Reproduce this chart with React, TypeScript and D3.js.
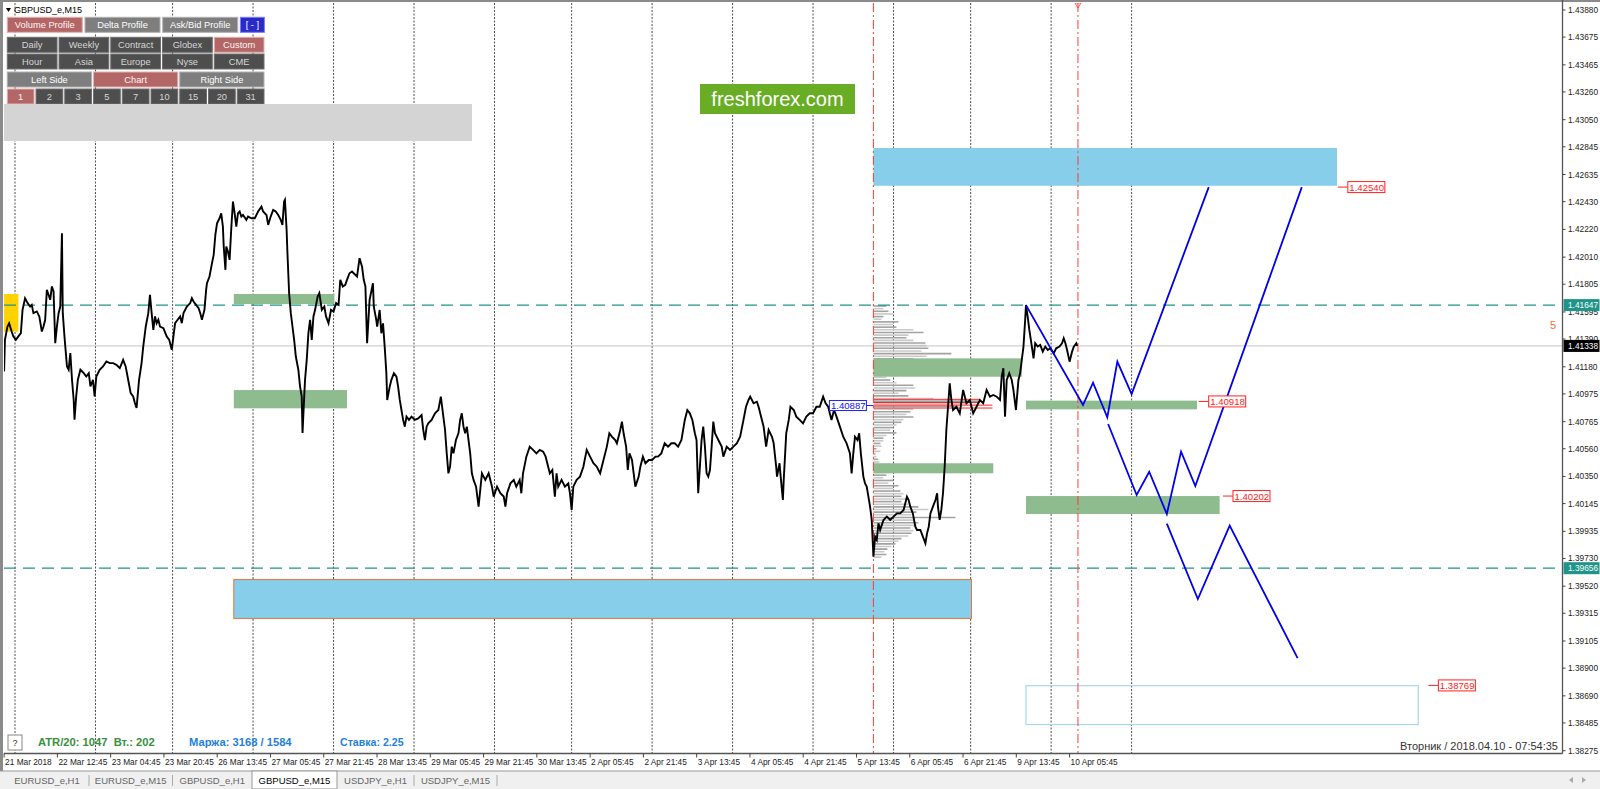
import React from "react";
import * as d3 from "d3";

// ---------- DATA ----------
const priceTicks = [1.4388, 1.43675, 1.43465, 1.4326, 1.4305, 1.42845, 1.42635, 1.4243, 1.4222, 1.4201, 1.41805, 1.41595, 1.4139, 1.4118, 1.40975, 1.40765, 1.4056, 1.4035, 1.40145, 1.39935, 1.3973, 1.3952, 1.39315, 1.39105, 1.389, 1.3869, 1.38485, 1.38275];

const timeLabels = ["21 Mar 2018", "22 Mar 12:45", "23 Mar 04:45", "23 Mar 20:45", "26 Mar 13:45", "27 Mar 05:45", "27 Mar 21:45", "28 Mar 13:45", "29 Mar 05:45", "29 Mar 21:45", "30 Mar 13:45", "2 Apr 05:45", "2 Apr 21:45", "3 Apr 13:45", "4 Apr 05:45", "4 Apr 21:45", "5 Apr 13:45", "6 Apr 05:45", "6 Apr 21:45", "9 Apr 13:45", "10 Apr 05:45"];
const timeLabelFirstBar = -13;
const timeLabelStepBars = 63.55;

// bar index (M15 bars since 22 Mar 00:00) of each day start
const daySeparators = [0, 96, 188, 284, 380, 476, 572, 664, 760, 856, 952, 1048, 1140, 1236, 1332];

// [bar index, price]
const priceSeries: [number, number][] = [
[-13,1.41145],[-12,1.41384],[-9,1.41485],[-7,1.4151],[-4,1.41447],[-2,1.4141],[1,1.41384],[4,1.4141],[7,1.41435],[9,1.41611],[12,1.41699],[15,1.41662],[18,1.41636],[20,1.41649],[22,1.41586],[26,1.41599],[29,1.41561],[32,1.41447],[34,1.41485],[36,1.41536],[38,1.41762],[40,1.41725],[42,1.41687],[44,1.41788],[46,1.4175],[48,1.41359],[50,1.41485],[52,1.41586],[54,1.41636],[56,1.42191],[57,1.41586],[59,1.4141],[60,1.41334],[62,1.41183],[64,1.41158],[66,1.41284],[68,1.41082],[70,1.40931],[71,1.4078],[73,1.40956],[75,1.41082],[78,1.41158],[82,1.41132],[85,1.41107],[88,1.41132],[90,1.41032],[93,1.41082],[95,1.40956],[97,1.41107],[101,1.41158],[105,1.41183],[109,1.41221],[113,1.41208],[117,1.41208],[121,1.41195],[125,1.4117],[129,1.41233],[132,1.41183],[135,1.41082],[138,1.40981],[141,1.40956],[143,1.40906],[145,1.40868],[148,1.41082],[151,1.41208],[153,1.41334],[156,1.41485],[159,1.41586],[161,1.41725],[163,1.41586],[165,1.4146],[167,1.41561],[169,1.4151],[171,1.41536],[173,1.41485],[177,1.41473],[181,1.4141],[184,1.41384],[186,1.41334],[187,1.41309],[189,1.4141],[191,1.4151],[194,1.41536],[197,1.41561],[199,1.4151],[201,1.41586],[205,1.41636],[209,1.41662],[211,1.41699],[213,1.41674],[216,1.41649],[219,1.41624],[221,1.41586],[223,1.41536],[226,1.41611],[228,1.41762],[229,1.41813],[232,1.41863],[235,1.41964],[237,1.42027],[239,1.42178],[241,1.42266],[244,1.42304],[246,1.42342],[248,1.42241],[249,1.4209],[251,1.41914],[252,1.4209],[254,1.42052],[256,1.41989],[258,1.42229],[260,1.4243],[262,1.42342],[264,1.42241],[266,1.42342],[268,1.42355],[270,1.42317],[272,1.42329],[276,1.42292],[278,1.42317],[282,1.42304],[286,1.42304],[290,1.42355],[294,1.42392],[296,1.42355],[300,1.42329],[302,1.42254],[305,1.42317],[308,1.42367],[311,1.42355],[314,1.42329],[317,1.42292],[319,1.42254],[321,1.4243],[322,1.42443],[324,1.42216],[325,1.4204],[327,1.41737],[329,1.41586],[331,1.41485],[333,1.41384],[335,1.41258],[338,1.41158],[340,1.41032],[342,1.40956],[343,1.40679],[345,1.40956],[346,1.41082],[348,1.41233],[350,1.41435],[352,1.41536],[354,1.41384],[356,1.41561],[358,1.41611],[361,1.41712],[363,1.41737],[366,1.41611],[369,1.41636],[371,1.41561],[374,1.4151],[377,1.41611],[380,1.41599],[383,1.41662],[386,1.41649],[388,1.41838],[391,1.41788],[394,1.418],[396,1.41838],[399,1.41888],[402,1.41901],[404,1.41888],[408,1.41863],[411,1.42002],[414,1.41938],[416,1.41838],[418,1.41788],[420,1.41359],
[423,1.41686],[427,1.41812],[428,1.41635],[431,1.41534],[432,1.41484],[435,1.4161],[437,1.41434],[439,1.41509],[441,1.41333],[443,1.41131],[444,1.40929],[447,1.4103],[449,1.41081],[452,1.41131],[455,1.41106],[457,1.4103],[459,1.40929],[461,1.40853],[463,1.40778],[465,1.40727],[467,1.40803],[470,1.40778],[473,1.40803],[477,1.40778],[481,1.4079],[485,1.40815],[487,1.40702],[489,1.40626],[491,1.40727],[493,1.40752],[497,1.40778],[501,1.40828],[505,1.40853],[508,1.40954],[510,1.40853],[513,1.40702],[515,1.40525],[517,1.40374],[519,1.40424],[521,1.40576],[523,1.40525],[526,1.40626],[529,1.40677],[531,1.40778],[533,1.40828],[535,1.40727],[537,1.40677],[539,1.40727],[541,1.40626],[543,1.40525],[545,1.40374],[547,1.40324],[550,1.40273],[553,1.40122],[555,1.40248],[557,1.40374],[559,1.40349],[561,1.40324],[565,1.40374],[569,1.40273],[571,1.40198],[575,1.40273],[579,1.40223],[583,1.40198],[585,1.40122],[587,1.40223],[591,1.40298],[595,1.40324],[598,1.40273],[602,1.40324],[604,1.40223],[606,1.40374],[610,1.405],[614,1.40576],[618,1.40551],[622,1.40525],[626,1.40551],[630,1.40538],[633,1.405],[636,1.40424],[638,1.40374],[641,1.40399],[644,1.40198],[646,1.40374],[648,1.40273],[652,1.40324],[656,1.40273],[660,1.40298],[662,1.40223],[664,1.40097],[666,1.40273],[670,1.40324],[674,1.40349],[678,1.40424],[682,1.40551],[686,1.405],[690,1.4045],[694,1.40424],[698,1.40374],[702,1.40475],[706,1.40576],[709,1.40677],[712,1.40652],[716,1.40626],[718,1.40601],[722,1.40702],[724,1.40765],[726,1.40677],[729,1.40576],[731,1.40399],[733,1.40525],[736,1.40475],[738,1.40374],[740,1.40273],[744,1.40349],[746,1.40424],[749,1.405],[752,1.4045],[756,1.40475],[760,1.40475],[764,1.405],[767,1.405],[771,1.40525],[775,1.40601],[779,1.40576],[783,1.40601],[787,1.40601],[791,1.40576],[795,1.40626],[799,1.40778],[802,1.40853],[805,1.40828],[808,1.40778],[811,1.40677],[813,1.40626],[815,1.40223],[817,1.40424],[819,1.40626],[821,1.40727],[823,1.40576],[825,1.40374],[827,1.40349],[829,1.40399],[831,1.40576],[833,1.40765],[835,1.40677],[839,1.40626],[843,1.40576],[845,1.405],[849,1.40576],[853,1.40551],[857,1.40576],[861,1.40601],
[865,1.40651],[869,1.40778],[872,1.40878],[875,1.40929],[877,1.40954],[881,1.40904],[885,1.40916],[887,1.40878],[891,1.40778],[893,1.40727],[896,1.40576],[899,1.40702],[903,1.40651],[905,1.40601],[908,1.40424],[909,1.40349],[912,1.4045],[913,1.40374],[916,1.40172],[917,1.40324],[920,1.40677],[923,1.40778],[925,1.40878],[929,1.40853],[932,1.40803],[936,1.40778],[940,1.40752],[944,1.40803],[948,1.40828],[952,1.40828],[956,1.40878],[960,1.40878],[964,1.40954],[967,1.40904],[970,1.40878],[974,1.40778],[977,1.40853],[980,1.40803],[984,1.40727],[988,1.40651],[992,1.40601],[996,1.40525],[998,1.40374],[1000,1.40525],[1002,1.40651],[1005,1.40626],[1007,1.40677],[1009,1.40525],[1012,1.40349],[1014,1.40298],[1016,1.40273],[1018,1.40197],[1020,1.40122],[1022,1.40021],[1024,1.39743],[1026,1.39895],[1028,1.3987],[1030,1.39996],[1032,1.39945],[1036,1.40021],[1040,1.40046],[1044,1.40021],[1048,1.40046],[1052,1.40071],[1056,1.40071],[1060,1.40097],[1064,1.40197],[1066,1.40172],[1068,1.40122],[1071,1.40071],[1074,1.3997],[1076,1.39945],[1080,1.39945],[1083,1.39895],[1086,1.39844],[1088,1.3992],[1090,1.3997],[1092,1.40071],[1095,1.40122],[1098,1.40172],[1100,1.40223],[1101,1.40122],[1103,1.40021],[1105,1.40097],[1107,1.40223],[1109,1.40424],[1111,1.40702],[1113,1.40878],[1115,1.41055],[1117,1.40929],[1119,1.40853],[1123,1.40878],[1127,1.40828],[1131,1.41005],[1135,1.40904],[1139,1.40929],[1143,1.40828],[1147,1.40878],[1151,1.40929],[1155,1.40904],[1159,1.41005],[1163,1.40954],[1167,1.40967],[1171,1.40954],[1175,1.40929],[1177,1.41106],[1179,1.41169],[1181,1.40803],[1183,1.4108],[1186,1.41131],[1189,1.4108],[1191,1.41005],[1194,1.40853],[1197,1.4108],[1199,1.41131],[1201,1.41232],[1203,1.41333],[1205,1.41534],[1206,1.41648],[1208,1.4156],[1210,1.41459],[1213,1.41333],[1215,1.41244],[1217,1.41358],[1220,1.41333],[1223,1.41345],[1226,1.41295],[1229,1.41333],[1232,1.41307],[1235,1.4132],[1239,1.41282],[1242,1.4132],[1246,1.41333],[1249,1.41358],[1251,1.41396],[1253,1.41358],[1255,1.41307],[1258,1.41219],[1261,1.41295],[1263,1.41333],[1266,1.41358],[1267,1.41338]
];

// forecast zig-zags [bar, price]
const forecastA: [number, number][] = [[1206,1.41647],[1274,1.40891],[1286,1.4106],[1303,1.40798],[1315,1.41219],[1332,1.40974],[1424,1.4254]];
const forecastB: [number, number][] = [[1304,1.40747],[1338,1.4021],[1353,1.40386],[1374,1.40066],[1391,1.40538],[1408,1.40278],[1535,1.4254]];
const forecastC: [number, number][] = [[1374,1.39994],[1411,1.39423],[1449,1.39979],[1530,1.38975]];

// zones: [fromBar, toBar, topPrice, bottomPrice]
const greenZones: [number, number, number, number][] = [
  [261, 381, 1.41731, 1.41655],
  [261, 396, 1.41004, 1.40866],
  [1024, 1201, 1.41244, 1.41105],
  [1024, 1167, 1.4045, 1.40374],
  [1206, 1410, 1.40924, 1.40858],
  [1206, 1437, 1.40202, 1.40066],
];
const blueZoneTop: [number, number, number, number] = [1024, 1577, 1.42836, 1.4255];
const blueZoneBottom: [number, number, number, number] = [261, 1141, 1.3957, 1.39276];
const outlineZone: [number, number, number, number] = [1206, 1674, 1.38767, 1.38473];
const yellowZone: [number, number, number, number] = [-13, 4, 1.41731, 1.41446];

// red price tags: [price, leader start bar]
const priceTags: [number, number][] = [[1.4254, 1578], [1.40918, 1412], [1.40202, 1441], [1.38769, 1686]];

const levelHigh = 1.41647;
const levelLow = 1.39656;
const currentPrice = 1.41338;
const profileStartBar = 1024;
const currentBar = 1268;
const pocPrice = 1.40887;
// value-area lines [price, end bar]
const pocLines: [number, number][] = [[1.40934, 1151], [1.4091, 1151], [1.4089, 1166], [1.40868, 1166]];

// volume profile: rows from 1.41640 down, step 0.0002
const profileTop = 1.4164;
const profileStep = 0.0002;
const profileVolumes = [13,10,15,20,10,8,25,20,23,40,50,35,33,40,52,53,55,48,78,53,40,33,23,35,37,27,20,13,17,23,40,42,33,25,35,60,105,95,85,40,37,33,40,30,28,23,20,17,23,13,10,10,7,8,3,7,2,3,5,6,20,22,18,12,13,10,20,15,25,20,27,30,28,33,28,35,45,55,43,38,82,40,45,43,37,40,38,35,28,25,22,18,14,11,13,8];

const buttonRows: { label: string; kind: string }[][] = [
  [{ label: "Volume Profile", kind: "red" }, { label: "Delta Profile", kind: "gray" }, { label: "Ask/Bid Profile", kind: "gray" }, { label: "[ - ]", kind: "blue" }],
  [{ label: "Daily", kind: "dark" }, { label: "Weekly", kind: "dark" }, { label: "Contract", kind: "dark" }, { label: "Globex", kind: "dark" }, { label: "Custom", kind: "red" }],
  [{ label: "Hour", kind: "dark" }, { label: "Asia", kind: "dark" }, { label: "Europe", kind: "dark" }, { label: "Nyse", kind: "dark" }, { label: "CME", kind: "dark" }],
  [{ label: "Left Side", kind: "gray" }, { label: "Chart", kind: "red" }, { label: "Right Side", kind: "gray" }],
  ["1", "2", "3", "5", "7", "10", "15", "20", "31"].map((l, i) => ({ label: l, kind: i === 0 ? "red" : "dark" })),
];

const tabs = ["EURUSD_e,H1", "EURUSD_e,M15", "GBPUSD_e,H1", "GBPUSD_e,M15", "USDJPY_e,H1", "USDJPY_e,M15"];
const activeTab = 3;

// ---------- STYLE ----------
const F = "'Liberation Sans', Arial, sans-serif";
const TEAL = "#1f9488";
const kinds: Record<string, { fill: string; stroke: string; text: string }> = {
  red: { fill: "#b36666", stroke: "#e5b0b0", text: "#fff4f4" },
  gray: { fill: "#7e7e7e", stroke: "#b0b0b0", text: "#ffffff" },
  dark: { fill: "#4e4e4e", stroke: "#6e6e6e", text: "#d6d6d6" },
  blue: { fill: "#2a2ac8", stroke: "#7a7aff", text: "#ffffff" },
};

export default function App() {
  const W = 1600, H = 789;
  const plotL = 4, plotR = 1562.5, plotT = 3, plotB = 753.5;
  const x = d3.scaleLinear().domain([0, 1236]).range([15, 15 + 1236 * 0.8383]);
  const y = d3.scaleLinear().domain([1.38275, 1.4388]).range([750.7, 10]);
  const vol = d3.scaleLinear().domain([0, 100]).range([0, 100]);
  const line = d3.line<[number, number]>().x((d) => x(d[0])).y((d) => y(d[1]));

  const zoneRect = (z: [number, number, number, number]) => ({
    x: x(z[0]), y: y(z[2]), w: x(z[1]) - x(z[0]), h: y(z[3]) - y(z[2]),
  });

  // button layout
  const rowY = [17.3, 37.3, 54, 72, 89];
  const rowH = 15;
  const panelL = 7.3, panelR = 264;
  const row0W = [75, 75, 75, 24];
  const buttons: any[] = [];
  buttonRows.forEach((row, ri) => {
    let cx = panelL;
    const n = row.length;
    const gap = ri === 0 ? 2.7 : 2;
    const w = (panelR - panelL - (n - 1) * gap) / n;
    row.forEach((b, bi) => {
      const bw = ri === 0 ? row0W[bi] : w;
      buttons.push({ ...b, x: cx, y: rowY[ri], w: bw, h: rowH });
      cx += bw + gap;
    });
  });

  const tabEdges = [5, 89, 172.5, 252, 337, 414, 497];

  const bt = zoneRect(blueZoneTop);
  const bb = zoneRect(blueZoneBottom);
  const oz = zoneRect(outlineZone);
  const yz = zoneRect(yellowZone);
  const pre = { whiteSpace: "pre" } as any;

  return (
    <svg width={W} height={H} style={{ position: "absolute", left: 0, top: 0, background: "#fff" }} fontFamily={F}>
      <defs>
        <clipPath id="plot">
          <rect x={plotL} y={plotT} width={plotR - plotL} height={plotB - plotT} />
        </clipPath>
      </defs>
      <rect x={0} y={0} width={W} height={H} fill="#ffffff" />
      {/* window borders */}
      <rect x={0} y={0} width={W} height={2} fill="#8a8a8a" />
      <rect x={0} y={0} width={3} height={771} fill="#8a8a8a" />

      <g clipPath="url(#plot)">
        {/* day separators */}
        {daySeparators.map((d) => (
          <line key={"g" + d} x1={x(d)} x2={x(d)} y1={plotT} y2={plotB} stroke="#505050" strokeWidth={1} strokeDasharray="2,1.5" />
        ))}
        {/* volume profile */}
        {profileVolumes.map((v, k) => {
          const py = y(profileTop - k * profileStep);
          return <line key={"vp" + k} x1={x(profileStartBar)} x2={x(profileStartBar) + vol(v)} y1={py} y2={py} stroke={k % 2 === 0 ? "#a2a2a2" : "#c9c9c9"} strokeWidth={1.6} />;
        })}
        {/* zones */}
        <rect x={bt.x} y={bt.y} width={bt.w} height={bt.h} fill="#87ceeb" />
        <rect x={bb.x} y={bb.y} width={bb.w} height={bb.h} fill="#87ceeb" stroke="#e8733c" strokeWidth={1} />
        <rect x={oz.x} y={oz.y} width={oz.w} height={oz.h} fill="none" stroke="#a6d8ee" strokeWidth={1.2} />
        <rect x={yz.x} y={yz.y} width={yz.w} height={yz.h} fill="#ffd200" />
        {greenZones.map((z, i) => {
          const r = zoneRect(z);
          return <rect key={"gz" + i} x={r.x} y={r.y} width={r.w} height={r.h} fill="#8fbc8f" />;
        })}
        {/* value area lines */}
        {pocLines.map((p, i) => (
          <line key={"pl" + i} x1={x(profileStartBar)} x2={x(p[1])} y1={y(p[0])} y2={y(p[0])} stroke="#ff2020" strokeWidth={1} />
        ))}
        {/* horizontal levels */}
        <line x1={plotL} x2={plotR} y1={y(currentPrice)} y2={y(currentPrice)} stroke="#c4c4c4" strokeWidth={1} />
        <line x1={plotL} x2={plotR} y1={y(levelHigh)} y2={y(levelHigh)} stroke={TEAL} strokeWidth={1.2} strokeDasharray="12,7" />
        <line x1={plotL} x2={plotR} y1={y(levelLow)} y2={y(levelLow)} stroke={TEAL} strokeWidth={1.2} strokeDasharray="12,7" />
        {/* vertical red lines */}
        {[profileStartBar, currentBar].map((b) => (
          <line key={"rv" + b} x1={x(b)} x2={x(b)} y1={plotT} y2={plotB} stroke="#ff3b3b" strokeWidth={1} strokeDasharray="9,3,2,3" />
        ))}
        {/* price */}
        <path d={line(priceSeries) || ""} fill="none" stroke="#000" strokeWidth={1.9} strokeLinejoin="miter" />
        {/* forecasts */}
        {[forecastA, forecastB, forecastC].map((f, i) => (
          <path key={"fc" + i} d={line(f) || ""} fill="none" stroke="#0000ee" strokeWidth={1.8} />
        ))}
        {/* red tags */}
        {priceTags.map(([p, b], i) => {
          const lx = x(b), ly = y(p);
          return (
            <g key={"tag" + i}>
              <line x1={lx} x2={lx + 10} y1={ly} y2={ly} stroke="#ff2020" strokeWidth={1} />
              <rect x={lx + 10} y={ly - 5.5} width={37} height={11} fill="#fff" stroke="#ff2020" strokeWidth={1} />
              <text x={lx + 11.5} y={ly + 3.8} fontSize={9.6} fill="#ff1a1a">{p.toFixed(5)}</text>
            </g>
          );
        })}
        {/* POC tag */}
        <g>
          <line x1={x(profileStartBar) - 7} x2={x(profileStartBar)} y1={y(pocPrice)} y2={y(pocPrice)} stroke="#2020ff" strokeWidth={1} />
          <rect x={x(profileStartBar) - 44} y={y(pocPrice) - 5} width={37} height={10} fill="#fff" stroke="#2020ff" strokeWidth={1} />
          <text x={x(profileStartBar) - 42.5} y={y(pocPrice) + 3.6} fontSize={9.6} fill="#1010ff">{pocPrice.toFixed(5)}</text>
        </g>
        {/* current bar marker */}
        <path d={`M${x(currentBar) - 3},3 L${x(currentBar) + 3},3 L${x(currentBar)},8 Z`} fill="none" stroke="#ff3b3b" strokeWidth={0.8} />
      </g>

      {/* axes */}
      <line x1={plotR} x2={plotR} y1={0} y2={plotB} stroke="#555" strokeWidth={1.3} />
      <line x1={plotL} x2={plotR} y1={plotB} y2={plotB} stroke="#555" strokeWidth={1.3} />
      {priceTicks.map((p) => (
        <g key={"pt" + p}>
          <line x1={plotR} x2={plotR + 3} y1={y(p)} y2={y(p)} stroke="#444" />
          <text x={plotR + 5.5} y={y(p) + 3} fontSize={8.3} fill="#222">{p.toFixed(5)}</text>
        </g>
      ))}
      {/* level tags on axis */}
      {[[levelHigh, TEAL], [levelLow, TEAL], [currentPrice, "#000"]].map(([p, c]: any) => (
        <g key={"lt" + p}>
          <rect x={plotR + 1} y={y(p) - 6} width={36} height={12} fill={c} />
          <text x={plotR + 5.5} y={y(p) + 3} fontSize={8.3} fill="#fff">{p.toFixed(5)}</text>
        </g>
      ))}
      <text x={1550} y={329} fontSize={11} fill="#ff6a3a">5</text>

      {timeLabels.map((t, i) => {
        const tx = x(timeLabelFirstBar + i * timeLabelStepBars);
        return (
          <g key={"tl" + i}>
            <line x1={tx} x2={tx} y1={plotB} y2={plotB + 4} stroke="#444" />
            <text x={tx + 1} y={765} fontSize={8.3} fill="#222">{t}</text>
          </g>
        );
      })}

      {/* header */}
      <path d="M6,8 L11,8 L8.5,12 Z" fill="#000" />
      <text x={14} y={13} fontSize={9} fill="#000">GBPUSD_e,M15</text>

      {/* button panel */}
      {buttons.map((b, i) => {
        const k = kinds[b.kind];
        return (
          <g key={"b" + i}>
            <rect x={b.x} y={b.y} width={b.w} height={b.h} fill={k.fill} stroke={k.stroke} strokeWidth={1} />
            <text x={b.x + b.w / 2} y={b.y + b.h / 2 + 3.3} fontSize={9.3} textAnchor="middle" fill={k.text}>{b.label}</text>
          </g>
        );
      })}
      <rect x={4} y={104} width={468} height={37} fill="#d4d4d4" />

      {/* logo */}
      <rect x={700} y={84} width={155} height={30} fill="#69ad25" />
      <text x={777.5} y={106} fontSize={20} textAnchor="middle" fill="#ffffff">freshforex.com</text>

      {/* bottom info */}
      <rect x={8} y={735} width={14} height={15} fill="#fff" stroke="#888" />
      <text x={15} y={746} fontSize={9} textAnchor="middle" fill="#333">?</text>
      <text x={38} y={746} fontSize={11.2} fontWeight="bold" fill="#3a8f3a" style={pre}>ATR/20: 1047  Вт.: 202</text>
      <text x={189} y={746} fontSize={11.2} fontWeight="bold" fill="#1f7fe0" style={pre}>Маржа: 3168 / 1584</text>
      <text x={340} y={746} fontSize={10.6} fontWeight="bold" fill="#1f7fe0">Ставка: 2.25</text>
      <text x={1558} y={750} fontSize={11} textAnchor="end" fill="#333">Вторник / 2018.04.10 - 07:54:35</text>

      {/* tab bar */}
      <rect x={0} y={771} width={W} height={18} fill="#f0f0f0" />
      <line x1={0} x2={W} y1={771} y2={771} stroke="#999" strokeWidth={1} />
      <rect x={tabEdges[activeTab]} y={771} width={tabEdges[activeTab + 1] - tabEdges[activeTab]} height={18} fill="#ffffff" stroke="#999" />
      {tabs.map((t, i) => (
        <g key={"tab" + i}>
          {i > 0 && i !== activeTab && i !== activeTab + 1 && (
            <line x1={tabEdges[i]} x2={tabEdges[i]} y1={775} y2={786} stroke="#aaa" />
          )}
          <text x={(tabEdges[i] + tabEdges[i + 1]) / 2} y={784} fontSize={9.5} textAnchor="middle" fill={i === activeTab ? "#000" : "#666"}>{t}</text>
        </g>
      ))}
      <line x1={tabEdges[6]} x2={tabEdges[6]} y1={775} y2={786} stroke="#aaa" />
      <path d="M1573,777 L1569,780 L1573,783 Z" fill="#aaa" />
      <path d="M1582,777 L1586,780 L1582,783 Z" fill="#aaa" />
    </svg>
  );
}
